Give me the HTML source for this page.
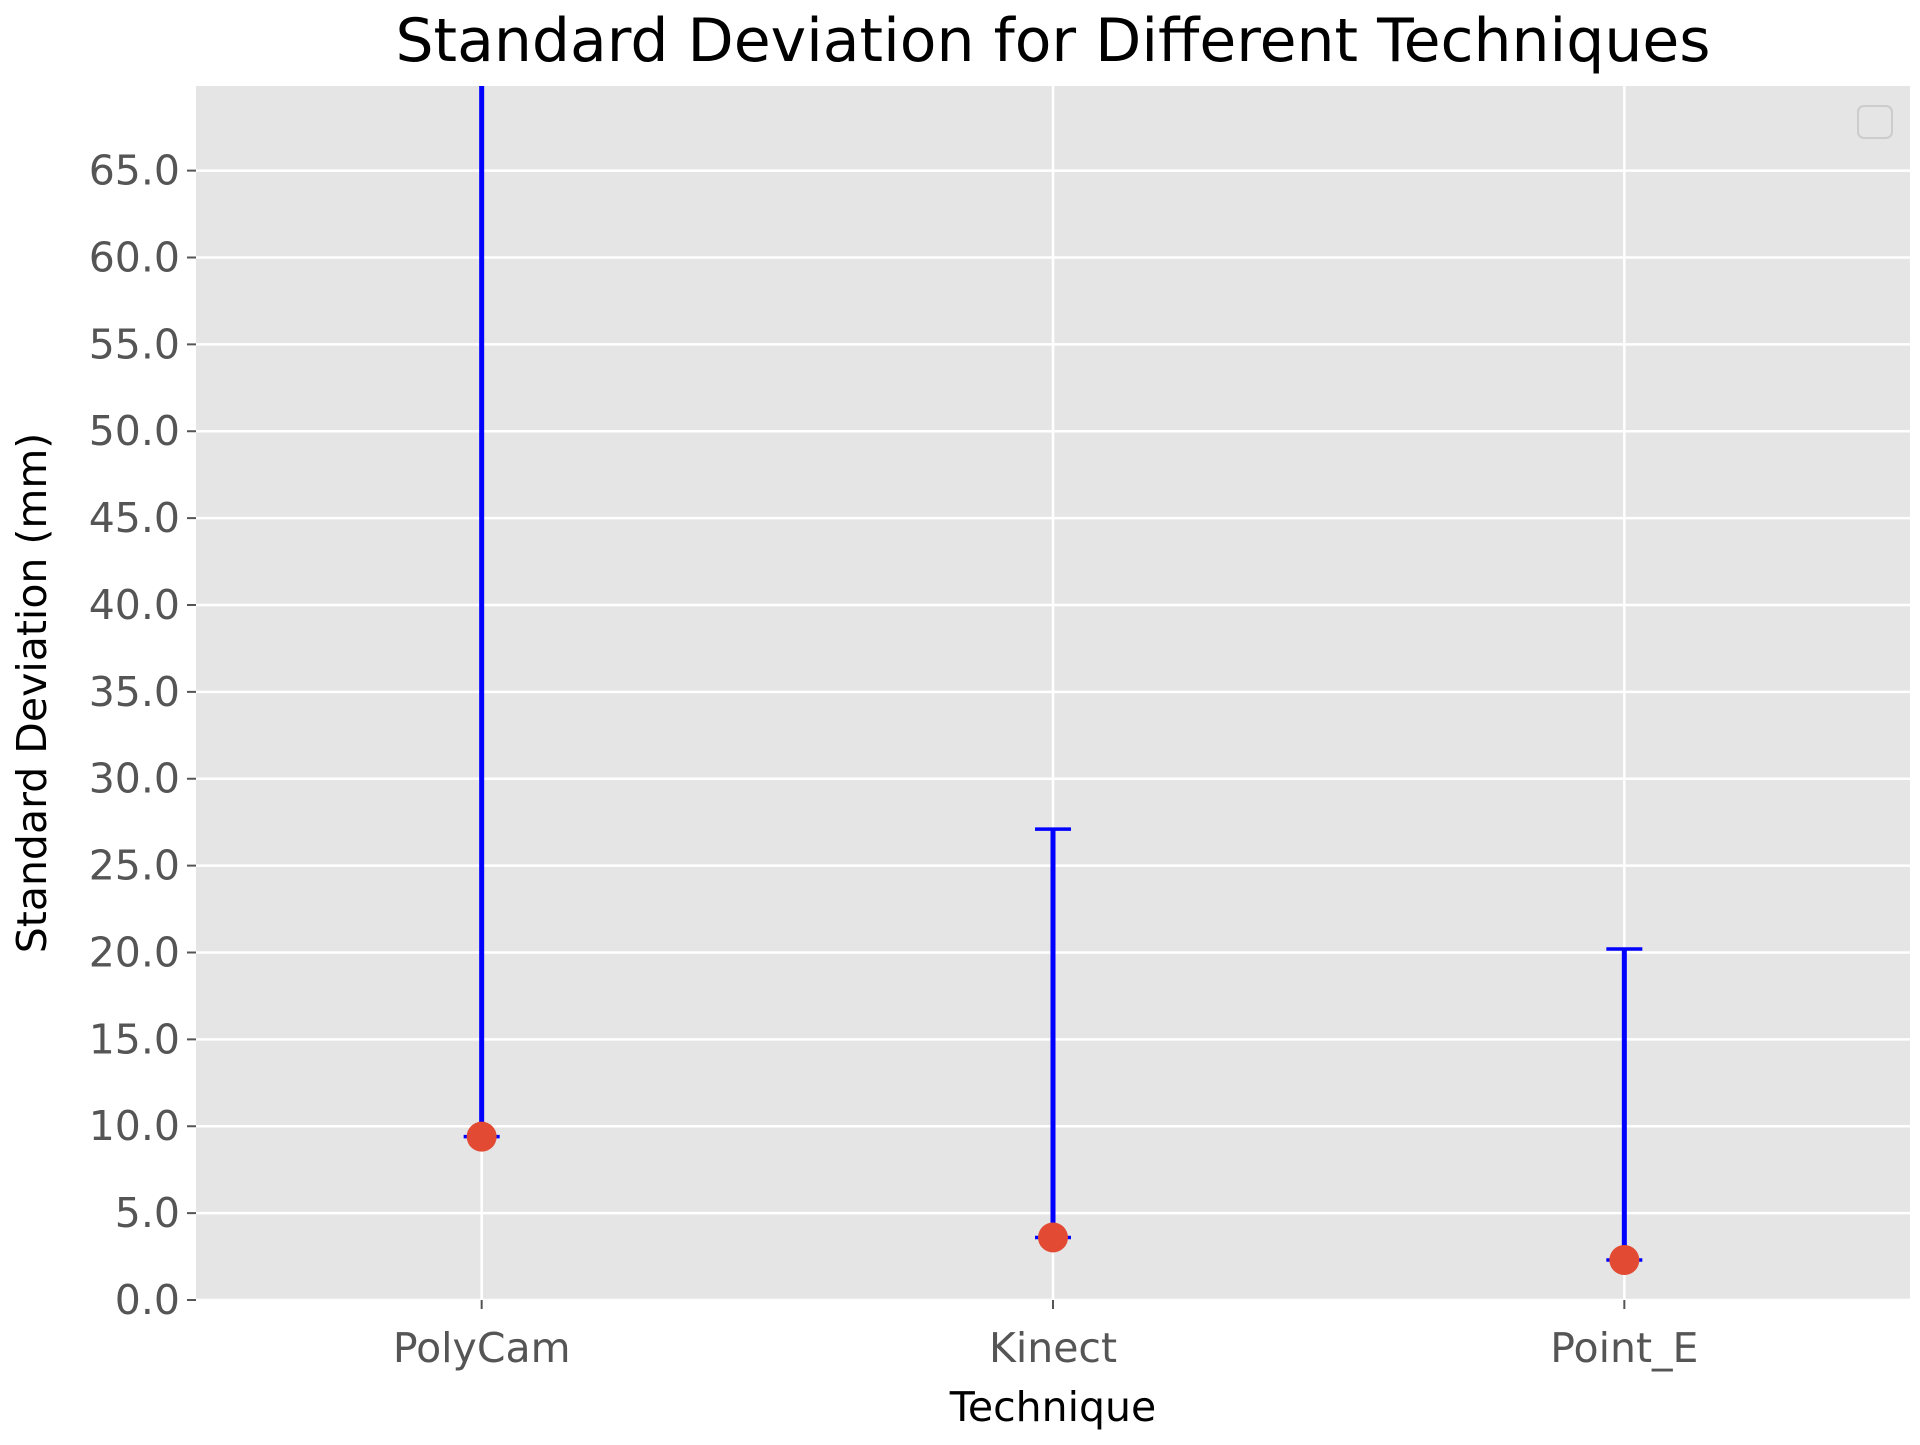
<!DOCTYPE html>
<html><head><meta charset="utf-8"><style>
html,body{margin:0;padding:0;background:#fff;}
svg text{font-family:"DejaVu Sans","Liberation Sans",sans-serif;}
</style></head><body>
<svg id="chart" width="1920" height="1440" xmlns="http://www.w3.org/2000/svg">
<rect x="0" y="0" width="1920" height="1440" fill="#fff"/>
<rect x="196" y="86" width="1714" height="1214" fill="#e5e5e5"/>
<g id="grid"></g><g id="marks"></g><g id="axes"></g>
<text x="1053" y="61" font-size="60" text-anchor="middle" fill="#000">Standard Deviation for Different Techniques</text>
<text x="1053" y="1421" font-size="41" text-anchor="middle" fill="#000">Technique</text>
<text transform="translate(46,693) rotate(-90)" font-size="41" text-anchor="middle" fill="#000">Standard Deviation (mm)</text>
<rect x="1858" y="106" width="34" height="32" rx="6" fill="#e5e5e5" stroke="#ccc" stroke-width="2"/>
</svg>
<script>
const categories=["PolyCam","Kinect","Point_E"];
const means=[9.4,3.6,2.3];
const upperErr=[75,23.5,17.9];
const lowerErr=[0,0,0];
const yTicks=[0,5,10,15,20,25,30,35,40,45,50,55,60,65];
const L=196,R=1910,T=86,B=1300,yMax=69.87;
const NS="http://www.w3.org/2000/svg";
function xs(i){return L+(i+0.5)/3*(R-L);}
function ys(v){return B-v/yMax*(B-T);}
function mk(t,a,p){const e=document.createElementNS(NS,t);for(const k in a)e.setAttribute(k,a[k]);p.appendChild(e);return e;}
const grid=document.getElementById('grid'),marks=document.getElementById('marks'),axes=document.getElementById('axes');
yTicks.forEach(v=>{
 const y=ys(v);
 const g=mk('line',{x1:L,x2:R,y1:y,y2:y,stroke:'#fff','stroke-width':2.5},grid);
 
 
 const t=mk('line',{x1:L-9,x2:L,y1:y,y2:y,stroke:'#555','stroke-width':2},axes);
 
 
 const l=mk('text',{x:L-16,y:y+14,'font-size':41,'text-anchor':'end',fill:'#555'},axes);
 l.textContent=v.toFixed(1);
 
 
});
categories.forEach((c,i)=>{
 const x=xs(i);
 const g=mk('line',{x1:x,x2:x,y1:T,y2:B,stroke:'#fff','stroke-width':2.5},grid);
 
 
 const t=mk('line',{x1:x,x2:x,y1:B,y2:B+9,stroke:'#555','stroke-width':2},axes);
 
 
 const l=mk('text',{x:x,y:B+62,'font-size':41,'text-anchor':'middle',fill:'#555'},axes);
 l.textContent=c;
 
 
 const top=Math.max(T,ys(means[i]+upperErr[i])),bot=ys(means[i]-lowerErr[i]);
 const e=mk('line',{x1:x,x2:x,y1:top,y2:bot,stroke:'#0000ff','stroke-width':5},marks);
 
 
 if(ys(means[i]+upperErr[i])>=T){
  const cp=mk('line',{x1:x-18,x2:x+18,y1:top,y2:top,stroke:'#0000ff','stroke-width':3.5},marks);
  
  
 }
 const cb=mk('line',{x1:x-18,x2:x+18,y1:bot,y2:bot,stroke:'#0000ff','stroke-width':3.5},marks);
 
 
 const p=mk('circle',{cx:x,cy:ys(means[i]),r:15,fill:'#e24a33'},marks);
 
 
});
</script>
</body></html>
